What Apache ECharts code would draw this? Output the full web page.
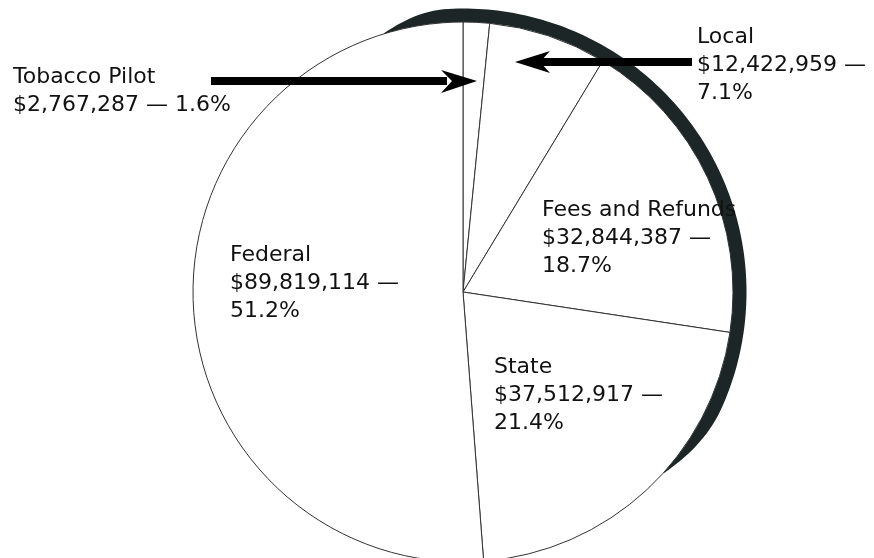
<!DOCTYPE html>
<html>
<head>
<meta charset="utf-8">
<script src="https://cdn.jsdelivr.net/npm/echarts@6/dist/echarts.min.js"></script>
<style>
html, body { margin: 0; padding: 0; background: #fff; }
#chart { width: 874px; height: 558px; }
</style>
</head>
<body>
<div id="chart"></div>
<script>
var categories = ['Tobacco Pilot', 'Local', 'Fees and Refunds', 'State', 'Federal'];
var amounts = [2767287, 12422959, 32844387, 37512917, 89819114];

// top-left corner of every label block, same order as categories
var labelPos = [
	{x: 13, y: 63, inline: true},
	{x: 697, y: 23},
	{x: 542, y: 196},
	{x: 494, y: 353},
	{x: 230, y: 241}
];

var cx = 463, cy = 292, R = 270;

function money(v) {
	return '$' + v.toLocaleString('en-US');
}

// dark rim on the upper right, thin at both ends
function rimPoints() {
	var from = 107, to = -42, outer = [], inner = [];
	for (var a = from; a >= to; a -= 1) {
		var t = Math.min(1, (from - a) / 14, (a - to) / 18);
		var ro = R + 0.5 + 13 * Math.sin(t * Math.PI / 2);
		var rad = a * Math.PI / 180;
		outer.push([cx + ro * Math.cos(rad), cy - ro * Math.sin(rad)]);
		inner.unshift([cx + (R - 0.5) * Math.cos(rad), cy - (R - 0.5) * Math.sin(rad)]);
	}
	return outer.concat(inner);
}

var myChart = echarts.init(document.getElementById('chart'));

var option = {
	animation: false,
	backgroundColor: '#fff',
	series: [
		{
			type: 'pie',
			center: [cx, cy],
			radius: R,
			startAngle: 90,
			clockwise: true,
			percentPrecision: 1,
			avoidLabelOverlap: false,
			emphasis: {disabled: true},
			itemStyle: {color: '#fff', borderColor: '#333', borderWidth: 1},
			label: {
				show: true,
				position: 'inside',
				color: '#111',
				fontFamily: 'DejaVu Sans',
				fontSize: 22,
				lineHeight: 28,
				align: 'left',
				formatter: function (p) {
					var sep = labelPos[p.dataIndex].inline ? ' ' : '\n';
					return p.name + '\n' + money(p.value) + ' \u2014' + sep + p.percent.toFixed(1) + '%';
				}
			},
			labelLine: {show: false},
			labelLayout: function (p) {
				var lp = labelPos[p.dataIndex];
				return {x: lp.x, y: lp.y, align: 'left', verticalAlign: 'top'};
			},
			data: categories.map(function (c, i) {
				return {name: c, value: amounts[i]};
			})
		}
	],
	graphic: [
		{type: 'polygon', z: 1, shape: {points: rimPoints()}, style: {fill: '#1c2626'}},
		{type: 'rect', z: 100, shape: {x: 211, y: 77, width: 236, height: 8}, style: {fill: '#000'}},
		{type: 'polygon', z: 100, shape: {points: [[441, 70], [477, 81], [441, 93], [452, 81]]}, style: {fill: '#000'}},
		{type: 'rect', z: 100, shape: {x: 538, y: 58, width: 154, height: 8}, style: {fill: '#000'}},
		{type: 'polygon', z: 100, shape: {points: [[550, 51], [515, 62], [550, 73], [540, 62]]}, style: {fill: '#000'}}
	]
};

myChart.setOption(option);
</script>
</body>
</html>
